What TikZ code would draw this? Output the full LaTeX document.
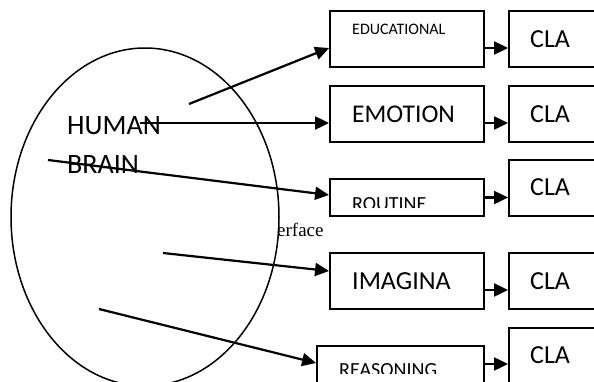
\documentclass[tikz,border=0pt]{standalone}
\usepackage{fontspec}
\setmainfont{Carlito}
\newfontfamily\timesface{Liberation Serif}
\usetikzlibrary{arrows.meta,positioning,calc,shapes.geometric}

\begin{document}
\begin{tikzpicture}[
    x=1pt, y=-1pt,
    box/.style={draw, line width=1.9pt, inner sep=0pt, minimum height=56pt},
    word/.style={anchor=base west, inner sep=0pt},
    flow/.style={->, line width=2.2pt},
    >={Triangle[length=14pt,width=13pt]}
  ]
  \useasboundingbox (0,0) rectangle (594,381);
  \clip (0,0) rectangle (594,381);

  % the brain
  \node[draw, ellipse, line width=1.5pt, minimum width=268pt, minimum height=338pt, inner sep=0pt] (brain) at (145,217) {};
  \node[word, font=\fontsize{28}{34}\selectfont] (human) at (67,134) {HUMAN};
  \node[word, font=\fontsize{28}{34}\selectfont] (brainname) at (67,173) {BRAIN};
  \node[word, font=\timesface\fontsize{19}{23}\selectfont] (iface) at (277,236.5) {erface};

  % boxes
  \node[box, minimum width=154pt] (edu) at (407,39) {};
  \node[box, minimum width=154pt] (emo) at (407,114) {};
  \node[box, minimum width=154pt, minimum height=37pt] (rout) at (407,197.5) {};
  \node[box, minimum width=154pt] (imag) at (407,281) {};
  \node[box, minimum width=167pt] (reas) at (400.5,374) {};
  \node[box, minimum width=131pt] (cla1) at (574.5,39) {};
  \node[box, minimum width=131pt] (cla2) at (574.5,114) {};
  \node[box, minimum width=131pt] (cla3) at (574.5,188) {};
  \node[box, minimum width=131pt] (cla4) at (574.5,281) {};
  \node[box, minimum width=131pt] (cla5) at (574.5,356) {};

  % box texts
  \node[word, font=\fontsize{16}{19}\selectfont] (edutxt) at (352,34) {EDUCATIONAL};
  \node[word, font=\fontsize{25.5}{30}\selectfont] (emotxt) at (352,122) {EMOTION};
  \node[word, font=\fontsize{26}{31}\selectfont] (imagtxt) at (352,289) {IMAGINA};
  \begin{scope}
    \clip (330,179) rectangle (484,207);
    \node[word, font=\fontsize{20}{24}\selectfont] (routtxt) at (352,210) {ROUTINE};
  \end{scope}
  \begin{scope}
    \clip (317,346) rectangle (484,373);
    \node[word, font=\fontsize{20}{24}\selectfont] (reastxt) at (339,376) {REASONING};
  \end{scope}
  \foreach \i/\yy in {1/47,2/122,3/195,4/289,5/363}
    \node[word, font=\fontsize{26}{31}\selectfont] (clatxt\i) at (530,\yy) {CLA};

  % arrows out of the brain
  \coordinate (s1) at (189,104);
  \coordinate (s2) at (140,123);
  \coordinate (s3) at (48,160);
  \coordinate (s4) at (163,253);
  \coordinate (s5) at (99,309);
  \draw[flow] (s1) -- ($(edu.west)+(0,9)$);
  \draw[flow] (s2) -- ($(emo.west)+(0,9)$);
  \draw[flow] (s3) -- ($(rout.west)+(0,-2.5)$);
  \draw[flow] (s4) -- ($(imag.west)+(0,-10)$);
  \draw[flow] (s5) -- ($(reas.west)+(0,-11)$);

  % arrows into the CLA boxes
  \coordinate (e1) at ($(edu.east)+(0,9)$);
  \coordinate (e2) at ($(emo.east)+(0,9)$);
  \coordinate (e3) at ($(rout.east)+(0,0)$);
  \coordinate (e4) at ($(imag.east)+(0,9)$);
  \coordinate (e5) at ($(reas.east)+(0,-10)$);
  \draw[flow] (e1) -- (e1 -| cla1.west);
  \draw[flow] (e2) -- (e2 -| cla2.west);
  \draw[flow] (e3) -- (e3 -| cla3.west);
  \draw[flow] (e4) -- (e4 -| cla4.west);
  \draw[flow] (e5) -- (e5 -| cla5.west);
\end{tikzpicture}
\end{document}
